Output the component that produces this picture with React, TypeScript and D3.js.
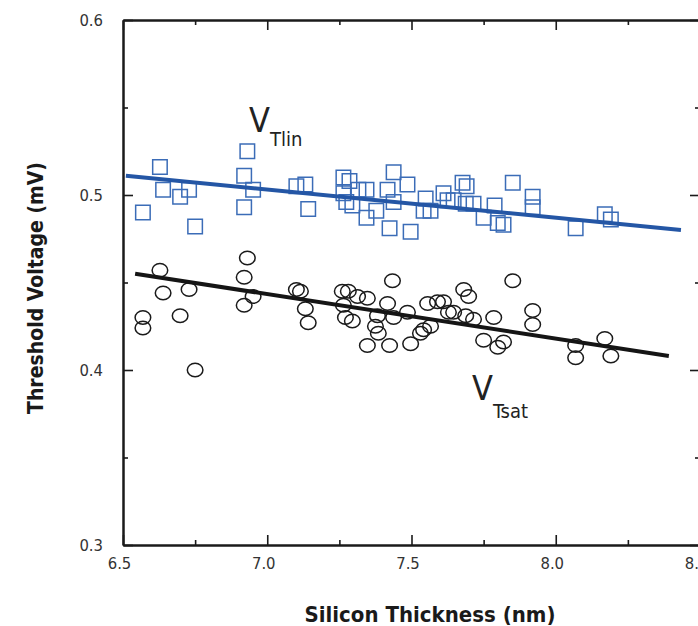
import React, { useEffect, useRef } from "react";
import * as d3 from "d3";

// V_Tlin (squares) and V_Tsat (circles), thickness in nm, voltage as labelled
const linThickness = [
  6.569, 6.628, 6.639, 6.698, 6.729, 6.75, 6.931, 6.92, 6.951, 6.92, 7.101, 7.132,
  7.142, 7.264, 7.285, 7.264, 7.316, 7.344, 7.274, 7.295, 7.344, 7.378, 7.417, 7.438,
  7.486, 7.438, 7.424, 7.497, 7.549, 7.542, 7.566, 7.611, 7.625, 7.677, 7.691, 7.646,
  7.688, 7.715, 7.851, 7.788, 7.75, 7.799, 7.819, 7.92, 7.92, 8.069, 8.17, 8.191,
];
const linVoltage = [
  0.49, 0.516, 0.503, 0.499, 0.503, 0.482, 0.525, 0.511, 0.503, 0.493, 0.505, 0.506,
  0.492, 0.51, 0.508, 0.501, 0.503, 0.503, 0.496, 0.494, 0.487, 0.491, 0.503, 0.513,
  0.506, 0.496, 0.481, 0.479, 0.498, 0.491, 0.491, 0.501, 0.497, 0.507, 0.505, 0.497,
  0.495, 0.495, 0.507, 0.494, 0.487, 0.484, 0.483, 0.499, 0.493, 0.481, 0.489, 0.486,
];
const satThickness = [
  6.569, 6.569, 6.628, 6.639, 6.698, 6.729, 6.75, 6.931, 6.92, 6.951, 6.92, 7.101,
  7.115, 7.132, 7.142, 7.26, 7.281, 7.313, 7.347, 7.264, 7.271, 7.295, 7.417, 7.434,
  7.382, 7.438, 7.486, 7.375, 7.385, 7.347, 7.424, 7.497, 7.556, 7.59, 7.611, 7.531,
  7.542, 7.566, 7.628, 7.681, 7.698, 7.646, 7.688, 7.715, 7.851, 7.785, 7.75, 7.799,
  7.819, 7.92, 7.92, 8.069, 8.069, 8.17, 8.191,
];
const satVoltage = [
  0.43, 0.424, 0.457, 0.444, 0.431, 0.446, 0.4, 0.464, 0.453, 0.442, 0.437, 0.446,
  0.445, 0.435, 0.427, 0.445, 0.445, 0.442, 0.441, 0.437, 0.43, 0.428, 0.438, 0.451,
  0.431, 0.43, 0.433, 0.425, 0.421, 0.414, 0.414, 0.415, 0.438, 0.439, 0.439, 0.421,
  0.423, 0.425, 0.433, 0.446, 0.442, 0.433, 0.431, 0.429, 0.451, 0.43, 0.417, 0.413,
  0.416, 0.434, 0.426, 0.414, 0.407, 0.418, 0.408,
];
// fitted lines, end points
const linFitX = [6.51, 8.434];
const linFitY = [0.511, 0.48];
const satFitX = [6.542, 8.392];
const satFitY = [0.455, 0.408];

const xTicks = [6.5, 7.0, 7.5, 8.0, 8.5];
const xMinor = [6.75, 7.25, 7.75, 8.25];
const yTicks = [0.3, 0.4, 0.5, 0.6];
const yMinor = [0.35, 0.45, 0.55];

const condensed = "'Liberation Sans Narrow', 'DejaVu Sans Condensed', 'Liberation Sans', sans-serif";

export default function App() {
  const ref = useRef<SVGSVGElement | null>(null);

  useEffect(() => {
    const width = 698;
    const height = 626;
    const margin = { left: 123, top: 20, right: 0, bottom: 81 };
    const innerW = 700 - margin.left;
    const innerH = height - margin.top - margin.bottom;

    const svg = d3.select(ref.current);
    svg.selectAll("*").remove();
    svg.attr("width", width).attr("height", height);

    const x = d3.scaleLinear().domain([6.5, 8.5]).range([0, innerW]);
    const y = d3.scaleLinear().domain([0.3, 0.6]).range([innerH, 0]);

    const g = svg.append("g").attr("transform", `translate(${margin.left},${margin.top})`);

    const styleAxis = (sel: any) => {
      sel.select(".domain").attr("stroke", "#1a1a1a").attr("stroke-width", 2);
      sel.selectAll(".tick line").attr("stroke", "#1a1a1a").attr("stroke-width", 1.6);
      sel.selectAll(".tick text")
        .attr("fill", "#333")
        .style("font-family", condensed)
        .style("font-size", "16.5px");
    };

    // bottom
    const xAxisG = g.append("g").attr("transform", `translate(0,${innerH})`)
      .call(d3.axisBottom(x).tickValues(xTicks).tickFormat(d3.format(".1f")).tickSize(-10).tickSizeOuter(0).tickPadding(12));
    styleAxis(xAxisG);
    xAxisG.selectAll(".tick text").attr("dx", -4);
    const xMinorG = g.append("g").attr("transform", `translate(0,${innerH})`)
      .call(d3.axisBottom(x).tickValues(xMinor).tickFormat(() => "").tickSize(-5).tickSizeOuter(0));
    styleAxis(xMinorG);

    // top
    const topG = g.append("g")
      .call(d3.axisTop(x).tickValues(xTicks).tickFormat(() => "").tickSize(-10).tickSizeOuter(0));
    styleAxis(topG);
    const topMinorG = g.append("g")
      .call(d3.axisTop(x).tickValues(xMinor).tickFormat(() => "").tickSize(-5).tickSizeOuter(0));
    styleAxis(topMinorG);

    // left
    const yAxisG = g.append("g")
      .call(d3.axisLeft(y).tickValues(yTicks).tickFormat(d3.format(".1f")).tickSize(-10).tickSizeOuter(0).tickPadding(20));
    styleAxis(yAxisG);
    const yMinorG = g.append("g")
      .call(d3.axisLeft(y).tickValues(yMinor).tickFormat(() => "").tickSize(-5).tickSizeOuter(0));
    styleAxis(yMinorG);

    // right
    const rightG = g.append("g").attr("transform", `translate(${innerW},0)`)
      .call(d3.axisRight(y).tickValues(yTicks).tickFormat(() => "").tickSize(-10).tickSizeOuter(0));
    styleAxis(rightG);
    const rightMinorG = g.append("g").attr("transform", `translate(${innerW},0)`)
      .call(d3.axisRight(y).tickValues(yMinor).tickFormat(() => "").tickSize(-5).tickSizeOuter(0));
    styleAxis(rightMinorG);

    // markers
    const lin = linThickness.map((t, i) => ({ t, v: linVoltage[i] }));
    const sat = satThickness.map((t, i) => ({ t, v: satVoltage[i] }));
    const side = 14.5;

    g.selectAll("rect.lin")
      .data(lin)
      .enter()
      .append("rect")
      .attr("class", "lin")
      .attr("x", (d) => x(d.t) - side / 2)
      .attr("y", (d) => y(d.v) - side / 2)
      .attr("width", side)
      .attr("height", side)
      .attr("fill", "none")
      .attr("stroke", "#3b6cb7")
      .attr("stroke-width", 1.5);

    g.selectAll("ellipse.sat")
      .data(sat)
      .enter()
      .append("ellipse")
      .attr("class", "sat")
      .attr("cx", (d) => x(d.t))
      .attr("cy", (d) => y(d.v))
      .attr("rx", 7.8)
      .attr("ry", 6.8)
      .attr("fill", "none")
      .attr("stroke", "#1a1a1a")
      .attr("stroke-width", 1.5);

    // fit lines
    const line = d3.line<number>().x((d) => x(d));
    g.append("path")
      .attr("d", line.y((_, i) => y(linFitY[i]))(linFitX))
      .attr("fill", "none")
      .attr("stroke", "#2456a5")
      .attr("stroke-width", 4);
    g.append("path")
      .attr("d", line.y((_, i) => y(satFitY[i]))(satFitX))
      .attr("fill", "none")
      .attr("stroke", "#151515")
      .attr("stroke-width", 4);

    // series labels
    const lab1 = svg.append("text").attr("x", 249).attr("y", 132)
      .attr("fill", "#222").style("font-family", condensed);
    lab1.append("tspan").style("font-size", "34px").text("V");
    lab1.append("tspan").attr("dy", 14).style("font-size", "20px").text("Tlin");

    const lab2 = svg.append("text").attr("x", 472).attr("y", 400)
      .attr("fill", "#222").style("font-family", condensed);
    lab2.append("tspan").style("font-size", "34px").text("V");
    lab2.append("tspan").attr("dy", 18).style("font-size", "20px").text("Tsat");

    // axis titles
    svg.append("text")
      .attr("x", 430)
      .attr("y", 622)
      .attr("text-anchor", "middle")
      .attr("fill", "#1a1a1a")
      .style("font-family", condensed)
      .style("font-weight", "bold")
      .style("font-size", "22px")
      .text("Silicon Thickness (nm)");

    svg.append("text")
      .attr("transform", "translate(43,288) rotate(-90)")
      .attr("text-anchor", "middle")
      .attr("fill", "#1a1a1a")
      .style("font-family", condensed)
      .style("font-weight", "bold")
      .style("font-size", "21px")
      .text("Threshold Voltage (mV)");
  }, []);

  return (
    <svg ref={ref} style={{ position: "absolute", left: 0, top: 0, background: "#fff" }} />
  );
}
